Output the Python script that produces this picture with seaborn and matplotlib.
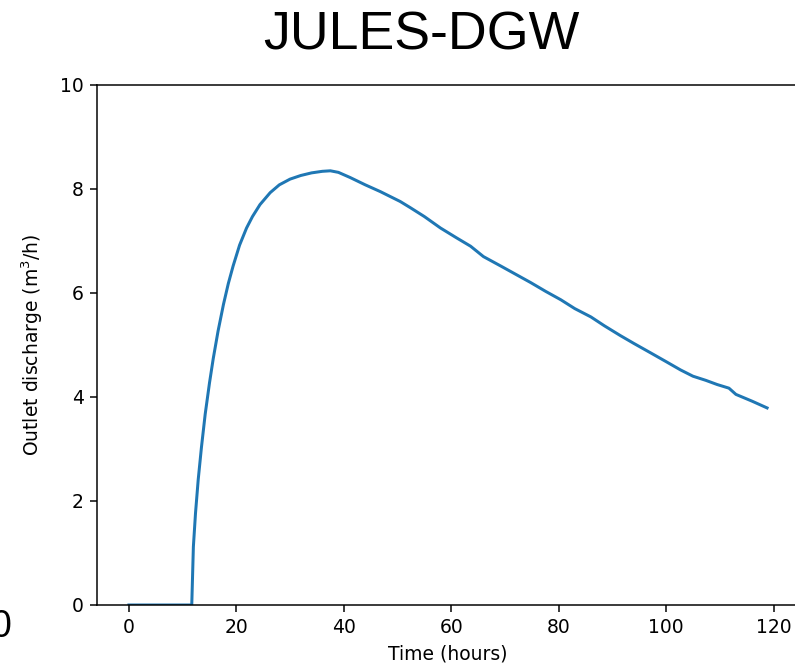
import matplotlib
matplotlib.use("Agg")
import matplotlib.pyplot as plt
import seaborn as sns
import pandas as pd

####### data ###############################
time_hours = [0, 11.7, 12.0, 12.4, 12.9, 13.5, 14.2, 15.0, 15.7, 16.6, 17.6, 18.5,
              19.4, 20.6, 21.9, 23.0, 24.4, 26.3, 28.0, 30.0, 32.0, 34.0, 36.0,
              37.5, 39.0, 41.2, 44.0, 46.8, 50.5, 52.4, 55.0, 58.0, 61.0, 63.6,
              66.0, 69.2, 72.0, 74.8, 77.6, 80.4, 83.0, 86.0, 88.5, 91.5, 94.0,
              97.1, 100.0, 102.7, 105.0, 107.4, 109.5, 111.7, 113.0, 116.0, 118.8]
discharge = [0, 0, 1.12, 1.77, 2.41, 3.03, 3.67, 4.27, 4.74, 5.27, 5.78, 6.18,
             6.52, 6.92, 7.25, 7.47, 7.7, 7.93, 8.08, 8.19, 8.26, 8.31, 8.34,
             8.35, 8.32, 8.22, 8.08, 7.95, 7.76, 7.64, 7.47, 7.25, 7.06, 6.9,
             6.7, 6.52, 6.36, 6.2, 6.03, 5.87, 5.7, 5.54, 5.37, 5.18, 5.03,
             4.85, 4.68, 4.52, 4.4, 4.32, 4.24, 4.17, 4.05, 3.92, 3.79]

df = pd.DataFrame({'time': time_hours, 'q': discharge})

####### plot ########
fig = plt.figure(figsize=(795 / 135, 669 / 135), dpi=135)
ax = fig.add_axes([97 / 795, 64 / 669, 702 / 795, 520 / 669])

sns.lineplot(data=df, x='time', y='q', ax=ax, color='#1f77b4', linewidth=1.6)

ax.set_ylim(0, 10)
ax.set_xticks([0, 20, 40, 60, 80, 100, 120])
ax.set_xlabel('Time (hours)')
ax.set_ylabel('Outlet discharge (m$^3$/h)', labelpad=8)

# title and the clipped label from the neighbouring panel
fig.text(421 / 795, 1 - 35 / 669, 'JULES-DGW', family='Liberation Sans',
         fontsize=28.7, ha='center', va='center')
fig.text(11 / 795, 1 - 627 / 669, '0', family='Liberation Sans',
         fontsize=20, ha='right', va='center')

fig.savefig('out.png', dpi=135)
